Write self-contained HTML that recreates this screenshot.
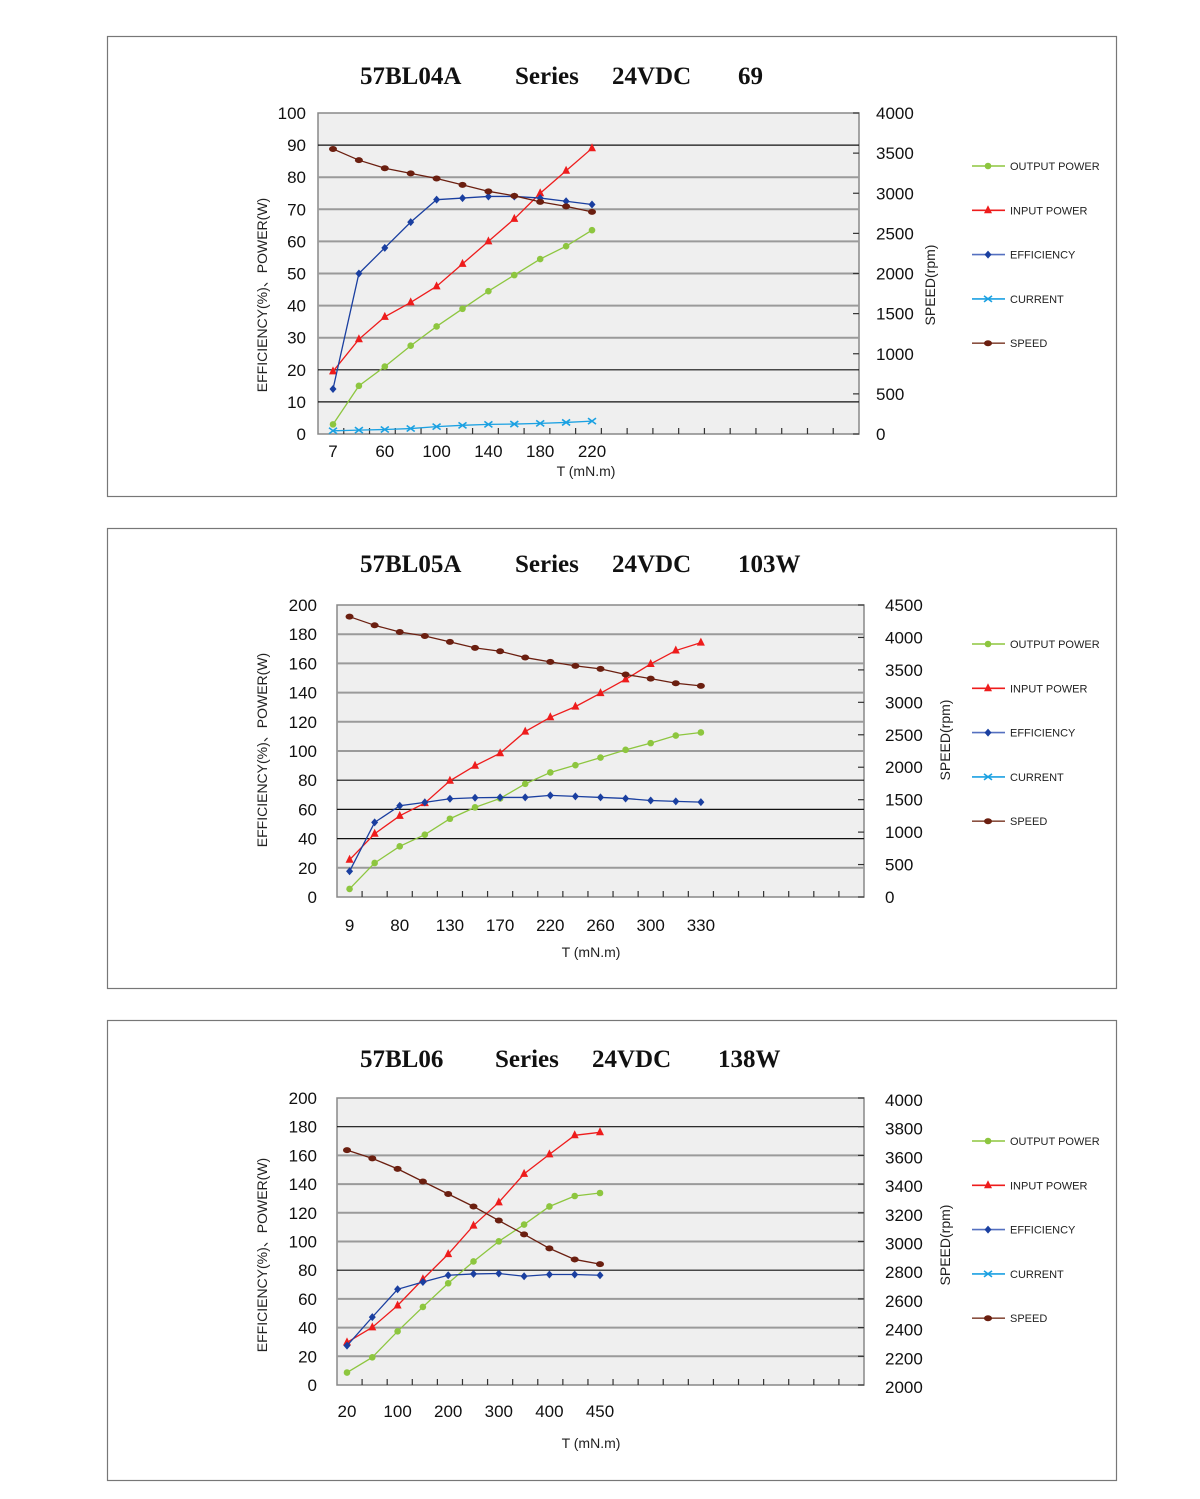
<!DOCTYPE html>
<html><head><meta charset="utf-8"><style>
body{margin:0;background:#fff;}
svg text{font-family:"Liberation Sans",sans-serif;}
.ti{font-family:"Liberation Serif",serif;font-weight:bold;font-size:25px;fill:#111;}
.tk{font-size:17px;fill:#111;}
.lg{font-size:11px;fill:#222;}
.ax{font-size:14px;fill:#222;}
</style></head><body>
<svg id="svg" width="1200" height="1494" viewBox="0 0 1200 1494" xmlns="http://www.w3.org/2000/svg"></svg>
<script>
// ---- Chart 1 data: 57BL04A ----
const c1Categories = ["7","","60","","100","","140","","180","","220"];
const c1Output = [3, 15, 21, 27.5, 33.5, 39, 44.5, 49.5, 54.5, 58.5, 63.5];
const c1Input = [19.5, 29.5, 36.5, 41, 46, 53, 60, 67, 75, 82, 89];
const c1Eff = [14, 50, 58, 66, 73, 73.5, 74, 74, 73.5, 72.5, 71.5];
const c1Current = [1, 1.2, 1.4, 1.7, 2.3, 2.7, 3, 3.1, 3.3, 3.6, 4];
const c1Speed = [3552, 3412, 3312, 3248, 3184, 3104, 3024, 2968, 2892, 2836, 2768];
const c1LeftTicks = [0,10,20,30,40,50,60,70,80,90,100];
const c1RightTicks = [0,500,1000,1500,2000,2500,3000,3500,4000];
// ---- Chart 2 data: 57BL05A ----
const c2Categories = ["9","","80","","130","","170","","220","","260","","300","","330"];
const c2Output = [5.5, 23.3, 34.7, 42.7, 53.6, 61.4, 67.5, 77.5, 85.3, 90.3, 95.5, 100.8, 105.4, 110.6, 112.7];
const c2Input = [25.5, 43.3, 55.6, 64.3, 79.6, 89.9, 98.5, 113.3, 123.1, 130.4, 139.6, 149.1, 159.6, 168.8, 174.2];
const c2Eff = [17.6, 51.1, 62.5, 64.8, 67.3, 68, 68.2, 68.2, 69.6, 68.9, 68.2, 67.5, 66.1, 65.5, 65];
const c2Speed = [4320, 4187, 4084, 4023, 3931, 3839, 3787, 3690, 3623, 3562, 3515, 3429, 3366, 3294, 3254];
const c2LeftTicks = [0,20,40,60,80,100,120,140,160,180,200];
const c2RightTicks = [0,500,1000,1500,2000,2500,3000,3500,4000,4500];
// ---- Chart 3 data: 57BL06 ----
const c3Categories = ["20","","100","","200","","300","","400","","450"];
const c3Output = [8.7, 19.3, 37.4, 54.4, 70.9, 86.1, 100.1, 111.8, 124.4, 131.7, 133.8];
const c3Input = [29.7, 40.2, 55.4, 73.7, 91.2, 111.1, 127.3, 147.1, 160.7, 174, 176.1];
const c3Eff = [27.4, 47.3, 66.7, 71.8, 76.5, 77.4, 77.7, 75.8, 77, 77, 76.5];
const c3Speed = [3637, 3579, 3506, 3418, 3331, 3244, 3146, 3050, 2952, 2875, 2842];
const c3LeftTicks = [0,20,40,60,80,100,120,140,160,180,200];
const c3RightTicks = [2000,2200,2400,2600,2800,3000,3200,3400,3600,3800,4000];

const NS="http://www.w3.org/2000/svg";
const svg=document.getElementById('svg');
function mk(tag,attrs,parent){const e=document.createElementNS(NS,tag);for(const k in attrs)e.setAttribute(k,attrs[k]);(parent||svg).appendChild(e);return e;}
function txt(s,x,y,cls,anchor,parent){const t=mk('text',{x:x,y:y,class:cls,'text-anchor':anchor||'start'},parent);t.textContent=s;return t;}

const COL={out:'#8dc63f',inp:'#ee1c1c',eff:'#1a3fa0',cur:'#1ba1e2',spd:'#6b1f10'};
function marker(g,kind,x,y){
  let m;
  if(kind==='out'){m=mk('circle',{cx:x,cy:y,r:3.3,fill:COL.out},g);}
  else if(kind==='inp'){m=mk('polygon',{points:`${x},${y-5} ${x-4},${y+3} ${x+4},${y+3}`,fill:COL.inp},g);}
  else if(kind==='eff'){m=mk('polygon',{points:`${x},${y-4} ${x+3.5},${y} ${x},${y+4} ${x-3.5},${y}`,fill:COL.eff},g);}
  else if(kind==='cur'){m=mk('path',{d:`M${x-4},${y-3}L${x+4},${y+3}M${x-4},${y+3}L${x+4},${y-3}`,stroke:COL.cur,'stroke-width':1.6},g);}
  else {m=mk('ellipse',{cx:x,cy:y,rx:4,ry:3,fill:COL.spd},g);}
  
  
}

function chart(cfg){
  const g=mk('g',{});
  
  
  const frame=mk('rect',{x:107.5,y:cfg.fy+0.5,width:1009,height:460,fill:'#fff',stroke:'#777','stroke-width':1.2},g);
  
  
  cfg.title.forEach(([s,x])=>{const t=txt(s,x,cfg.titleY,'ti','start',g);});
  const L=cfg.px,R=cfg.px+cfg.pw,T=cfg.py,B=cfg.py+cfg.ph;
  const lmin=cfg.lt[0],lmax=cfg.lt[cfg.lt.length-1];
  const rmin=cfg.rt[0],rmax=cfg.rt[cfg.rt.length-1];
  const yL=v=>B-(v-lmin)/(lmax-lmin)*cfg.ph;
  const yR=v=>B-(v-rmin)/(rmax-rmin)*cfg.ph;
  const bw=cfg.bw||cfg.pw/21;
  const x0=cfg.x0||(L+bw*0.5);
  const xC=i=>x0+i*bw;
  const bg=mk('rect',{x:L,y:T,width:cfg.pw,height:cfg.ph,fill:'#efefef',stroke:'#888','stroke-width':1.5},g);
  
  
  cfg.lt.forEach((v,i)=>{
    const y=yL(v);
    if(i>0&&i<cfg.lt.length-1){
      const dark=cfg.dark.indexOf(v)>=0;
      const gl=mk('line',{x1:L,x2:R,y1:y,y2:y,stroke:dark?'#111':'#9a9a9a','stroke-width':dark?1.2:2},g);
      
      
    }
    const t=txt(String(v),cfg.lx,y+6,'tk','end',g);
    
    
  });
  cfg.rt.forEach((v,i)=>{
    const y=yR(v);
    mk('line',{x1:R-6,x2:R,y1:y,y2:y,stroke:'#333','stroke-width':1.2},g);
    const t=txt(String(v),cfg.rx,y+6+cfg.rOff,'tk','start',g);
    
    
  });
  const tb=cfg.pw/21;
  for(let i=1;i<21;i++){mk('line',{x1:L+i*tb,x2:L+i*tb,y1:B-6,y2:B,stroke:'#333','stroke-width':1.2},g);}
  cfg.cats.forEach((c,i)=>{if(c){const t=txt(c,xC(i),cfg.xly,'tk','middle',g);}});
  const xt=txt('T (mN.m)',cfg.xtx,cfg.xty,'ax','middle',g);
  
  
  const yt=txt('EFFICIENCY(%)、POWER(W)',0,0,'ax','middle',g);
  yt.setAttribute('transform',`translate(${cfg.ytx},${cfg.yty}) rotate(-90)`);
  
  
  const rt=txt('SPEED(rpm)',0,0,'ax','middle',g);
  rt.setAttribute('transform',`translate(${cfg.rtx},${cfg.rty}) rotate(-90)`);
  
  
  cfg.series.forEach(([kind,arr,axis])=>{
    const f=axis==='r'?yR:yL;
    const pts=arr.map((v,i)=>xC(i)+','+f(v)).join(' ');
    const pl=mk('polyline',{points:pts,fill:'none',stroke:COL[kind],'stroke-width':1.3},g);
    
    
    arr.forEach((v,i)=>marker(g,kind,xC(i),f(v)));
  });
  const names=[['out','OUTPUT POWER'],['inp','INPUT POWER'],['eff','EFFICIENCY'],['cur','CURRENT'],['spd','SPEED']];
  const lc={out:'#8dc63f',inp:'#ee1c1c',eff:'#5570c0',cur:'#1ba1e2',spd:'#8a5040'};
  names.forEach(([k,n],i)=>{
    const y=cfg.legY+i*44.3;
    const lg=mk('g',{},g);
    
    
    mk('line',{x1:972,x2:1005,y1:y,y2:y,stroke:lc[k],'stroke-width':1.6},lg);
    marker(lg,k,988,y);
    txt(n,1010,y+4,'lg','start',lg);
  });
}

chart({name:'chart-57bl04a',fy:36,titleY:84,title:[['57BL04A',360],['Series',515],['24VDC',612],['69',738]],
  px:318,py:113,pw:541,ph:321,bw:25.9,x0:333,lt:c1LeftTicks,rt:c1RightTicks,dark:[90,20,10],lx:306,rx:876,rOff:0,
  cats:c1Categories,xly:457,xtx:586,xty:476,ytx:267,yty:295,rtx:935,rty:285,legY:166,
  series:[['out',c1Output,'l'],['inp',c1Input,'l'],['eff',c1Eff,'l'],['cur',c1Current,'l'],['spd',c1Speed,'r']]});
chart({name:'chart-57bl05a',fy:528,titleY:572,title:[['57BL05A',360],['Series',515],['24VDC',612],['103W',738]],
  px:337,py:605,pw:527,ph:292,lt:c2LeftTicks,rt:c2RightTicks,dark:[80,60,40],lx:317,rx:885,rOff:0,
  cats:c2Categories,xly:931,xtx:591,xty:957,ytx:267,yty:750,rtx:950,rty:740,legY:644,
  series:[['out',c2Output,'l'],['inp',c2Input,'l'],['eff',c2Eff,'l'],['spd',c2Speed,'r']]});
chart({name:'chart-57bl06',fy:1020,titleY:1067,title:[['57BL06',360],['Series',495],['24VDC',592],['138W',718]],
  px:337,py:1098,pw:527,ph:287,bw:25.3,x0:347,lt:c3LeftTicks,rt:c3RightTicks,dark:[180,80],lx:317,rx:885,rOff:2,
  cats:c3Categories,xly:1417,xtx:591,xty:1448,ytx:267,yty:1255,rtx:950,rty:1245,legY:1141,
  series:[['out',c3Output,'l'],['inp',c3Input,'l'],['eff',c3Eff,'l'],['spd',c3Speed,'r']]});
</script>
</body></html>
